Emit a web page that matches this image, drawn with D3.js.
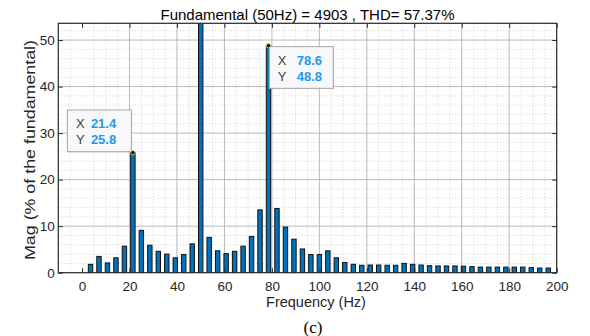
<!DOCTYPE html>
<html>
<head>
<meta charset="utf-8">
<script src="https://cdn.jsdelivr.net/npm/d3@7"></script>
<style>
  html, body { margin: 0; padding: 0; background: #fff; }
  svg { display: block; }
  text { font-family: "Liberation Sans", Arial, Helvetica, sans-serif; }
</style>
</head>
<body>
<svg id="chart" width="590" height="336"></svg>
<script>
// FFT spectrum: harmonic magnitudes in % of the 50 Hz fundamental
const frequencies = [
  3.57, 7.14, 10.71, 14.29, 17.86, 21.43, 25.00, 28.57, 32.14, 35.71,
  39.29, 42.86, 46.43, 50.00, 53.57, 57.14, 60.71, 64.29, 67.86, 71.43,
  75.00, 78.57, 82.14, 85.71, 89.29, 92.86, 96.43, 100.00, 103.57, 107.14,
  110.71, 114.29, 117.86, 121.43, 125.00, 128.57, 132.14, 135.71, 139.29, 142.86,
  146.43, 150.00, 153.57, 157.14, 160.71, 164.29, 167.86, 171.43, 175.00, 178.57,
  182.14, 185.71, 189.29, 192.86, 196.43
];
const magnitudes = [
  1.8, 3.5, 2.1, 3.2, 5.7, 25.8, 9.1, 5.9, 4.6, 4.0,
  3.2, 3.9, 6.2, 100, 7.6, 4.7, 4.1, 4.6, 5.7, 7.8,
  13.5, 48.8, 13.8, 9.8, 7.2, 5.1, 3.9, 3.9, 4.7, 3.2,
  2.2, 1.8, 1.6, 1.65, 1.65, 1.6, 1.6, 2.0, 1.8, 1.65,
  1.5, 1.45, 1.45, 1.45, 1.4, 1.3, 1.2, 1.2, 1.2, 1.2,
  1.2, 1.2, 1.1, 1.0, 1.0
];
const xTicks = [0, 20, 40, 60, 80, 100, 120, 140, 160, 180, 200];
const yTicks = [0, 10, 20, 30, 40, 50];
const xMinorTicks = d3.range(-5, 200, 5);
const yMinorTicks = d3.range(2, 54, 2);
const dataTipIndices = [5, 21]; // harmonics carrying a data cursor
const titleText = "Fundamental (50Hz) = 4903 , THD= 57.37%";
const xLabel = "Frequency (Hz)";
const yLabel = "Mag (% of the fundamental)";
const captionText = "(c)";

const svg = d3.select("#chart");
const plotLeft = 58.3, plotRight = 556.7, plotTop = 23.3, plotBottom = 272.7;

const x = d3.scaleLinear().domain([-10, 200]).range([plotLeft, plotRight]);
const y = d3.scaleLinear().domain([0, 53.6]).range([plotBottom, plotTop]);

const binStep = x(frequencies[1]) - x(frequencies[0]);
const barW = binStep * 0.52;

svg.append("defs").append("clipPath").attr("id", "plotClip")
  .append("rect").attr("x", plotLeft).attr("y", plotTop)
  .attr("width", plotRight - plotLeft).attr("height", plotBottom - plotTop);

// minor grid (dotted)
const grid = svg.append("g");
grid.selectAll(".xminor").data(xMinorTicks.filter(v => v % 20 !== 0)).join("line")
  .attr("x1", d => x(d)).attr("x2", d => x(d))
  .attr("y1", plotTop).attr("y2", plotBottom)
  .attr("stroke", "#c4c4c4").attr("stroke-width", 0.8)
  .attr("stroke-dasharray", "1,2.2");
grid.selectAll(".yminor").data(yMinorTicks.filter(v => v % 10 !== 0)).join("line")
  .attr("x1", plotLeft).attr("x2", plotRight)
  .attr("y1", d => y(d)).attr("y2", d => y(d))
  .attr("stroke", "#c4c4c4").attr("stroke-width", 0.8)
  .attr("stroke-dasharray", "1,2.2");
// major grid (solid)
grid.selectAll(".xmajor").data(xTicks.filter(v => v > 0 && v < 200)).join("line")
  .attr("x1", d => x(d)).attr("x2", d => x(d))
  .attr("y1", plotTop).attr("y2", plotBottom)
  .attr("stroke", "#b2b2b2").attr("stroke-width", 0.9);
grid.selectAll(".ymajor").data(yTicks.filter(v => v > 0)).join("line")
  .attr("x1", plotLeft).attr("x2", plotRight)
  .attr("y1", d => y(d)).attr("y2", d => y(d))
  .attr("stroke", "#b2b2b2").attr("stroke-width", 0.9);

// bars
svg.append("g").attr("clip-path", "url(#plotClip)")
  .selectAll("rect").data(frequencies).join("rect")
  .attr("x", d => x(d) - barW / 2)
  .attr("width", barW)
  .attr("y", (d, i) => y(magnitudes[i]))
  .attr("height", (d, i) => y(0) - y(magnitudes[i]))
  .attr("fill", "#0072BD")
  .attr("stroke", "#111")
  .attr("stroke-width", 1);

// axes with inward ticks on all four sides
const tickLen = 4.5;
const axisColor = "#262626";
const xAxisB = d3.axisBottom(x).tickValues(xTicks).tickSize(-tickLen).tickPadding(9).tickFormat(d3.format("d"));
const xAxisT = d3.axisTop(x).tickValues(xTicks).tickSize(-tickLen).tickFormat("");
const yAxisL = d3.axisLeft(y).tickValues(yTicks).tickSize(-tickLen).tickPadding(3.5).tickFormat(d3.format("d"));
const yAxisR = d3.axisRight(y).tickValues(yTicks).tickSize(-tickLen).tickFormat("");

function styleAxis(g) {
  g.select(".domain").remove();
  g.selectAll(".tick line").attr("stroke", axisColor).attr("stroke-width", 1);
  g.selectAll(".tick text").attr("fill", "#262626").style("font-size", "13.5px")
    .style("font-family", '"Liberation Sans", Arial, sans-serif');
}
svg.append("g").attr("transform", `translate(0,${plotBottom})`).call(xAxisB).call(styleAxis);
svg.append("g").attr("transform", `translate(0,${plotTop})`).call(xAxisT).call(styleAxis);
svg.append("g").attr("transform", `translate(${plotLeft},0)`).call(yAxisL).call(styleAxis);
svg.append("g").attr("transform", `translate(${plotRight},0)`).call(yAxisR).call(styleAxis);

svg.append("rect").attr("x", plotLeft).attr("y", plotTop)
  .attr("width", plotRight - plotLeft).attr("height", plotBottom - plotTop)
  .attr("fill", "none").attr("stroke", axisColor).attr("stroke-width", 1.2);

// titles and labels
svg.append("text").attr("x", (plotLeft + plotRight) / 2).attr("y", 19.5)
  .attr("text-anchor", "middle").attr("fill", "#000").style("font-size", "15px")
  .text(titleText);
svg.append("text").attr("x", 316).attr("y", 306.5)
  .attr("text-anchor", "middle").attr("fill", "#262626").style("font-size", "14.5px")
  .text(xLabel);
svg.append("text").attr("transform", `translate(34.5,${(plotTop + plotBottom) / 2 + 2}) rotate(-90)`)
  .attr("text-anchor", "middle").attr("fill", "#262626").style("font-size", "14px")
  .attr("textLength", 220).attr("lengthAdjust", "spacingAndGlyphs")
  .text(yLabel);
svg.append("text").attr("x", 313).attr("y", 332.5)
  .attr("text-anchor", "middle").attr("fill", "#000")
  .style("font-family", '"Liberation Serif", "Times New Roman", serif').style("font-size", "17px")
  .text(captionText);

// data cursors
const fmt = d3.format(".1f");
const tipW = 64, tipH = 41.7;
const tipLayout = [
  { dx: -tipW - 1.5, dy: -tipH - 1, valueOffset: 23.5 },
  { dx: 0.8, dy: 1, valueOffset: 27.5 }
];
dataTipIndices.forEach((idx, j) => {
  const px = x(frequencies[idx]), py = y(magnitudes[idx]);
  const L = tipLayout[j];
  const bx = px + L.dx, by = py + L.dy;
  const g = svg.append("g");
  g.append("rect").attr("x", bx + 1).attr("y", by + 1).attr("width", tipW).attr("height", tipH)
    .attr("fill", "rgba(0,0,0,0.08)");
  g.append("rect").attr("x", bx).attr("y", by).attr("width", tipW).attr("height", tipH)
    .attr("fill", "#f8f8fa").attr("stroke", "#a6a6a6").attr("stroke-width", 1);
  const rows = [["X", fmt(frequencies[idx])], ["Y", fmt(magnitudes[idx])]];
  rows.forEach((r, k) => {
    const ty = by + 18.3 + k * 15.7;
    g.append("text").attr("x", bx + 8.5).attr("y", ty)
      .attr("fill", "#404040").style("font-size", "13px").text(r[0]);
    g.append("text").attr("x", bx + L.valueOffset).attr("y", ty)
      .attr("fill", "#1a9af0").style("font-size", "13px").style("font-weight", "bold").text(r[1]);
  });
  g.append("circle").attr("cx", px).attr("cy", py).attr("r", 2.2)
    .attr("fill", "#111").attr("stroke", "#e8e0a0").attr("stroke-width", 0.8);
});
</script>
</body>
</html>
